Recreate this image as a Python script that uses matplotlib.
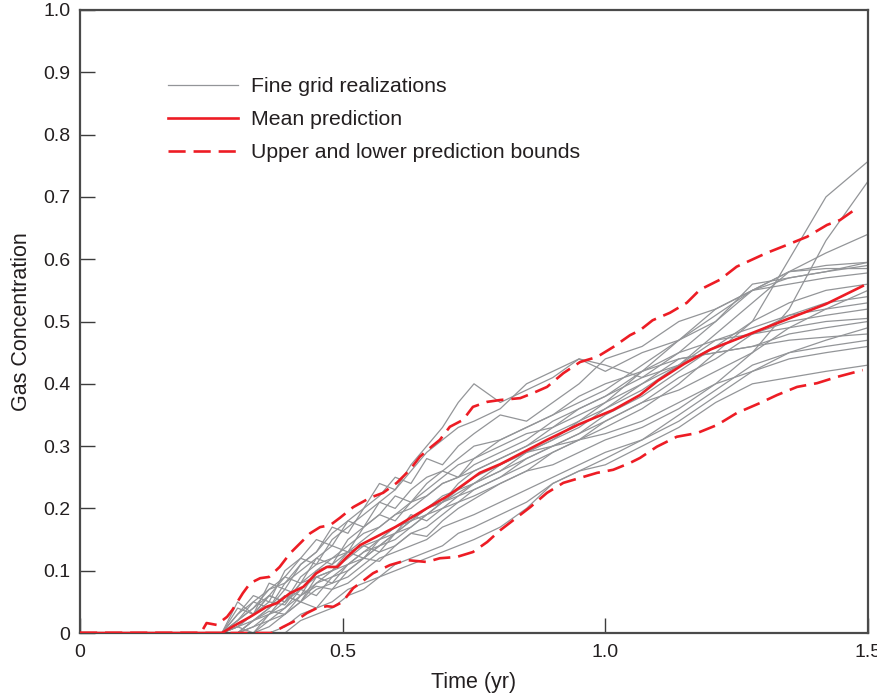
import matplotlib
matplotlib.use('Agg')
from matplotlib import pyplot as plt

plt.rcParams['font.family'] = ['Liberation Sans', 'DejaVu Sans']

RED = '#ED1C24'
GREY = '#939598'
INK = '#231F20'

# shared time grid of the fine grid realizations (yr)
t_real = [0, 0.27, 0.30, 0.33, 0.36, 0.39, 0.42, 0.45, 0.48, 0.51, 0.54, 0.57, 0.60, 0.63,
          0.66, 0.69, 0.72, 0.75, 0.80, 0.85, 0.90, 0.95, 1.00, 1.07, 1.14, 1.21, 1.28, 1.35,
          1.42, 1.50]

real_01 = [0, 0, 0.0, 0.02, 0.035, 0.03, 0.06, 0.075, 0.07, 0.10, 0.12, 0.115, 0.14, 0.16, 0.155,
           0.18, 0.20, 0.215, 0.24, 0.26, 0.29, 0.31, 0.33, 0.36, 0.40, 0.45, 0.50, 0.60, 0.70, 0.757]
real_02 = [0, 0, 0.01, 0.03, 0.05, 0.045, 0.08, 0.09, 0.10, 0.13, 0.14, 0.15, 0.17, 0.18, 0.20,
           0.21, 0.225, 0.24, 0.26, 0.28, 0.30, 0.32, 0.34, 0.37, 0.39, 0.42, 0.45, 0.52, 0.63, 0.725]
real_03 = [0, 0.0, 0.03, 0.05, 0.07, 0.09, 0.12, 0.15, 0.14, 0.18, 0.20, 0.24, 0.23, 0.27, 0.30,
           0.33, 0.37, 0.40, 0.37, 0.39, 0.41, 0.44, 0.42, 0.45, 0.47, 0.50, 0.55, 0.58, 0.61, 0.64]
real_04 = [0, 0, 0.04, 0.03, 0.08, 0.07, 0.11, 0.13, 0.17, 0.16, 0.20, 0.22, 0.25, 0.24, 0.28,
           0.27, 0.30, 0.32, 0.35, 0.34, 0.37, 0.40, 0.44, 0.46, 0.50, 0.52, 0.55, 0.57, 0.58, 0.595]
real_05 = [0, 0, 0.02, 0.04, 0.06, 0.05, 0.09, 0.11, 0.12, 0.14, 0.16, 0.17, 0.19, 0.21, 0.22,
           0.24, 0.25, 0.26, 0.28, 0.30, 0.33, 0.36, 0.38, 0.41, 0.45, 0.50, 0.56, 0.57, 0.58, 0.59]
real_06 = [0, 0, 0.0, 0.02, 0.03, 0.06, 0.05, 0.08, 0.10, 0.11, 0.13, 0.15, 0.16, 0.18, 0.20,
           0.21, 0.23, 0.25, 0.27, 0.29, 0.31, 0.34, 0.37, 0.42, 0.47, 0.52, 0.55, 0.56, 0.57, 0.578]
real_07 = [0, 0, 0, 0.01, 0.03, 0.05, 0.07, 0.06, 0.09, 0.11, 0.12, 0.14, 0.15, 0.17, 0.19,
           0.20, 0.21, 0.23, 0.25, 0.28, 0.30, 0.32, 0.35, 0.38, 0.42, 0.46, 0.50, 0.53, 0.55, 0.56]
real_08 = [0, 0, 0, 0, 0.01, 0.03, 0.05, 0.07, 0.08, 0.09, 0.11, 0.13, 0.14, 0.16, 0.17,
           0.19, 0.21, 0.22, 0.24, 0.26, 0.27, 0.29, 0.31, 0.33, 0.36, 0.40, 0.45, 0.49, 0.52, 0.55]
real_09 = [0, 0, 0.02, 0.05, 0.04, 0.08, 0.10, 0.12, 0.11, 0.15, 0.17, 0.19, 0.18, 0.21, 0.23,
           0.25, 0.27, 0.28, 0.30, 0.32, 0.33, 0.35, 0.37, 0.40, 0.43, 0.47, 0.49, 0.51, 0.52, 0.53]
real_10 = [0, 0, 0, 0.02, 0.04, 0.06, 0.05, 0.09, 0.10, 0.12, 0.14, 0.13, 0.16, 0.18, 0.19,
           0.21, 0.22, 0.24, 0.26, 0.29, 0.31, 0.33, 0.36, 0.40, 0.44, 0.45, 0.46, 0.48, 0.49, 0.50]
real_11 = [0, 0, 0, 0, 0.02, 0.03, 0.05, 0.04, 0.07, 0.08, 0.10, 0.12, 0.13, 0.14, 0.15,
           0.17, 0.18, 0.19, 0.21, 0.23, 0.25, 0.27, 0.29, 0.31, 0.34, 0.38, 0.42, 0.45, 0.47, 0.49]
real_12 = [0, 0, 0.03, 0.06, 0.05, 0.10, 0.12, 0.11, 0.15, 0.17, 0.19, 0.21, 0.20, 0.23, 0.25,
           0.26, 0.28, 0.30, 0.31, 0.33, 0.35, 0.38, 0.40, 0.42, 0.44, 0.45, 0.46, 0.47, 0.475, 0.48]
real_13 = [0, 0, 0, 0, 0, 0.01, 0.03, 0.04, 0.05, 0.07, 0.08, 0.09, 0.11, 0.12, 0.13,
           0.14, 0.16, 0.17, 0.19, 0.21, 0.24, 0.26, 0.28, 0.31, 0.35, 0.39, 0.43, 0.45, 0.46, 0.47]
real_14 = [0, 0, 0.01, 0.03, 0.06, 0.05, 0.08, 0.10, 0.11, 0.13, 0.12, 0.15, 0.17, 0.18, 0.20,
           0.22, 0.23, 0.24, 0.27, 0.29, 0.30, 0.31, 0.32, 0.34, 0.37, 0.40, 0.42, 0.44, 0.45, 0.46]
real_15 = [0, 0, 0, 0, 0, 0, 0.02, 0.03, 0.04, 0.06, 0.07, 0.09, 0.10, 0.11, 0.12,
           0.13, 0.14, 0.15, 0.17, 0.20, 0.24, 0.26, 0.27, 0.30, 0.33, 0.37, 0.40, 0.41, 0.42, 0.43]
real_16 = [0, 0, 0.02, 0.04, 0.07, 0.08, 0.11, 0.13, 0.16, 0.18, 0.17, 0.21, 0.23, 0.26, 0.29,
           0.31, 0.33, 0.34, 0.36, 0.40, 0.42, 0.44, 0.43, 0.41, 0.43, 0.46, 0.48, 0.50, 0.51, 0.52]
real_17 = [0, 0, 0.01, 0.02, 0.04, 0.07, 0.06, 0.10, 0.12, 0.13, 0.15, 0.17, 0.19, 0.20, 0.22,
           0.24, 0.25, 0.27, 0.29, 0.31, 0.34, 0.36, 0.38, 0.42, 0.45, 0.47, 0.48, 0.49, 0.50, 0.505]
real_18 = [0, 0, 0, 0.01, 0.02, 0.04, 0.06, 0.08, 0.09, 0.10, 0.12, 0.14, 0.16, 0.17, 0.19,
           0.21, 0.24, 0.26, 0.28, 0.30, 0.32, 0.34, 0.36, 0.39, 0.43, 0.48, 0.53, 0.58, 0.585, 0.585]
real_19 = [0, 0, 0.05, 0.03, 0.06, 0.09, 0.08, 0.12, 0.14, 0.13, 0.17, 0.19, 0.22, 0.21, 0.24,
           0.26, 0.25, 0.28, 0.31, 0.33, 0.35, 0.37, 0.39, 0.43, 0.47, 0.51, 0.55, 0.58, 0.59, 0.595]
real_20 = [0, 0, 0.01, 0.0, 0.03, 0.04, 0.07, 0.09, 0.08, 0.11, 0.13, 0.14, 0.16, 0.19, 0.18,
           0.20, 0.22, 0.23, 0.25, 0.27, 0.29, 0.31, 0.34, 0.37, 0.41, 0.44, 0.48, 0.51, 0.53, 0.54]

realizations = [real_01, real_02, real_03, real_04, real_05, real_06, real_07, real_08, real_09,
                real_10, real_11, real_12, real_13, real_14, real_15, real_16, real_17, real_18,
                real_19, real_20]

# mean prediction
t_mean = [0, 0.27, 0.29, 0.324, 0.355, 0.375, 0.40, 0.425, 0.45, 0.47, 0.49, 0.508, 0.533,
          0.60, 0.65, 0.70, 0.761, 0.80, 0.889, 0.95, 1.015, 1.066, 1.10, 1.15, 1.20, 1.275,
          1.35, 1.42, 1.49]
y_mean = [0, 0, 0.01, 0.026, 0.042, 0.048, 0.064, 0.074, 0.096, 0.106, 0.106, 0.122, 0.141,
          0.17, 0.195, 0.22, 0.257, 0.271, 0.31, 0.335, 0.358, 0.382, 0.405, 0.432, 0.455, 0.48,
          0.505, 0.528, 0.557]

# upper prediction bound
t_up = [0, 0.23, 0.241, 0.26, 0.28, 0.29, 0.31, 0.324, 0.343, 0.36, 0.38, 0.40, 0.419, 0.438,
        0.457, 0.476, 0.495, 0.52, 0.552, 0.577, 0.603, 0.628, 0.647, 0.666, 0.685, 0.704, 0.729,
        0.748, 0.775, 0.80, 0.838, 0.862, 0.889, 0.92, 0.952, 0.984, 1.015, 1.047, 1.066, 1.09,
        1.123, 1.155, 1.18, 1.218, 1.25, 1.307, 1.346, 1.384, 1.422, 1.447, 1.479]
y_up = [0, 0, 0.016, 0.013, 0.026, 0.037, 0.064, 0.08, 0.088, 0.09, 0.106, 0.128, 0.144, 0.16,
        0.17, 0.173, 0.185, 0.202, 0.217, 0.225, 0.241, 0.262, 0.283, 0.297, 0.31, 0.331, 0.342,
        0.363, 0.371, 0.374, 0.377, 0.385, 0.395, 0.417, 0.435, 0.443, 0.459, 0.478, 0.486,
        0.502, 0.514, 0.53, 0.551, 0.567, 0.588, 0.61, 0.623, 0.636, 0.655, 0.663, 0.682]

# lower prediction bound
t_low = [0, 0.365, 0.387, 0.413, 0.432, 0.451, 0.47, 0.482, 0.50, 0.52, 0.533, 0.558, 0.59,
         0.622, 0.66, 0.685, 0.717, 0.748, 0.775, 0.80, 0.857, 0.889, 0.92, 0.952, 0.984, 1.015,
         1.047, 1.066, 1.098, 1.136, 1.175, 1.213, 1.25, 1.294, 1.327, 1.365, 1.403, 1.441, 1.49]
y_low = [0, 0, 0.01, 0.021, 0.032, 0.04, 0.043, 0.042, 0.05, 0.072, 0.08, 0.096, 0.109, 0.117,
         0.114, 0.12, 0.122, 0.13, 0.146, 0.165, 0.202, 0.225, 0.241, 0.249, 0.257, 0.262, 0.273,
         0.281, 0.299, 0.315, 0.321, 0.334, 0.353, 0.369, 0.382, 0.395, 0.401, 0.411, 0.422]

x_ticks = [0, 0.5, 1.0, 1.5]
x_ticklabels = ['0', '0.5', '1.0', '1.5']
y_ticks = [0, 0.1, 0.2, 0.3, 0.4, 0.5, 0.6, 0.7, 0.8, 0.9, 1.0]
y_ticklabels = ['0', '0.1', '0.2', '0.3', '0.4', '0.5', '0.6', '0.7', '0.8', '0.9', '1.0']

fig = plt.figure(figsize=(8.77, 6.94), dpi=100)
ax = fig.add_axes([80 / 877, 1 - 633 / 694, 788 / 877, 623 / 694])

for i, r in enumerate(realizations):
    ax.plot(t_real, r, color=GREY, lw=0.9, zorder=2,
            label='Fine grid realizations' if i == 0 else None)
ax.plot(t_mean, y_mean, color=RED, lw=1.9, zorder=3, label='Mean prediction')
ax.plot(t_up, y_up, color=RED, lw=1.9, ls=(0, (6.5, 3)), zorder=3,
        label='Upper and lower prediction bounds')
ax.plot(t_low, y_low, color=RED, lw=1.9, ls=(0, (6.5, 3)), zorder=3)

ax.set_xlim(0, 1.5)
ax.set_ylim(0, 1.0)
ax.set_xticks(x_ticks)
ax.set_xticklabels(x_ticklabels)
ax.set_yticks(y_ticks)
ax.set_yticklabels(y_ticklabels)
ax.tick_params(direction='in', length=11, width=1.0, color='#3c3c3c', labelsize=14,
               labelcolor=INK, top=False, right=False)
ax.tick_params(axis='x', pad=8)
ax.tick_params(axis='y', pad=7)
for s in ax.spines.values():
    s.set_linewidth(1.6)
    s.set_color('#4a4a4a')

ax.set_xlabel('Time (yr)', fontsize=15.5, color=INK, labelpad=8)
ax.set_ylabel('Gas Concentration', fontsize=15.5, color=INK, labelpad=8)

leg = ax.legend(loc='upper left', bbox_to_anchor=(168 / 877, 1 - 77 / 694),
                bbox_transform=fig.transFigure, frameon=False, fontsize=15.3,
                handlelength=3.3, handletextpad=0.6, labelspacing=0.67,
                borderpad=0, borderaxespad=0)
for t in leg.get_texts():
    t.set_color(INK)

fig.savefig('out.png', dpi=100)
